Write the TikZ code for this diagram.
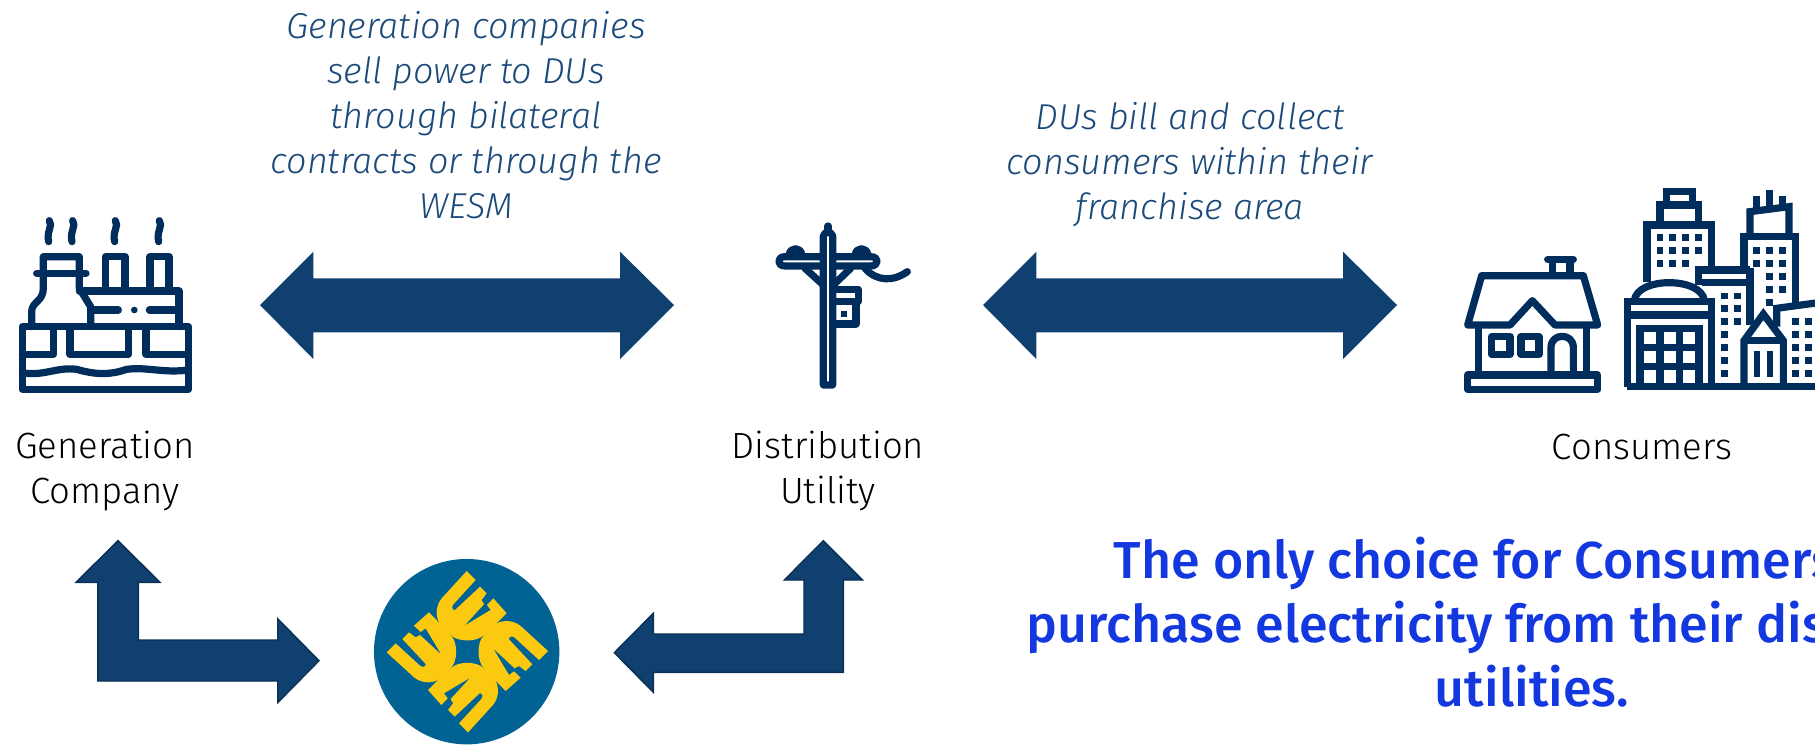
\documentclass[tikz,border=0pt]{standalone}
\usepackage{fontspec}
\setmainfont{Fira Sans Light}
\newfontfamily\boldf{Fira Sans Medium}
\definecolor{navy}{HTML}{002D5C}
\definecolor{arrowblue}{HTML}{10406F}
\definecolor{arrowedge}{HTML}{0A3055}
\definecolor{capblue}{HTML}{1B4A7A}
\definecolor{headblue}{HTML}{1438E0}
\definecolor{wesmblue}{HTML}{006394}
\definecolor{wesmgold}{HTML}{FBC90F}
\tikzset{
 icon/.style={draw=navy,line width=7.2pt,line join=round,line cap=round},
 iconb/.style={draw=navy,line width=7.2pt,line join=miter,line cap=butt},
 capt/.style={font=\fontsize{36}{45}\selectfont\itshape,text=capblue,align=center},
 lab/.style={font=\fontsize{36.5}{45}\selectfont,text=black,align=center},
 head/.style={font=\boldf\fontsize{52}{64}\selectfont,text=headblue,align=center},
 blockarrow/.style={fill=arrowblue},
 elbowarrow/.style={fill=arrowblue,draw=arrowedge,line width=1.4pt,line join=miter},
 zoomed/.style={x=0.33333pt,y=-0.33333pt},
}
\newcommand{\smoke}[1]{\draw[icon] (#1,92) .. controls (#1+12,108) and (#1-10,125) .. (#1-2,155);}
\newcommand{\win}[2]{\fill[navy] (#1-10,#2-10) rectangle (#1+10,#2+10);}
\begin{document}
\begin{tikzpicture}[x=1pt,y=-1pt]
\useasboundingbox (0,0) rectangle (1815,746);
\clip (0,0) rectangle (1815,746);
% captions
\node[capt] (capA) at (466,115) {Generation companies\\sell power to DUs\\through bilateral\\contracts or through the\\WESM};
\node[capt] (capB) at (1190,164.5) {DUs bill and collect\\consumers within their\\franchise area};
\node[lab] (labA) at (105,471) {Generation\\Company};
\node[lab] (labB) at (828,471) {Distribution\\Utility};
\node[lab] (labC) at (1642,447) {Consumers};
\node[head] (headline) at (1532,622) {The only choice for Consumers is to\\purchase electricity from their distribution\\utilities.};
% double arrows
\fill[blockarrow] (260,305) -- (313.3,251.7) -- (313.3,278.3) -- (620,278.3) -- (620,251.7) -- (674,305) -- (620,359) -- (620,332.3) -- (313.3,332.3) -- (313.3,359) -- cycle;
\fill[blockarrow] (983,305) -- (1036.3,251.7) -- (1036.3,278.3) -- (1343,278.3) -- (1343,251.7) -- (1397,305) -- (1343,359) -- (1343,332.3) -- (1036.3,332.3) -- (1036.3,359) -- cycle;
% elbow arrows
\draw[elbowarrow] (118,540.7) -- (160,582.3) -- (138.3,582.3) -- (138.3,640) -- (277.7,640) -- (277.7,618.7) -- (319,660.7) -- (277.7,702.7) -- (277.7,681) -- (97.7,681) -- (97.7,582.3) -- (76,582.3) -- cycle;
\draw[elbowarrow] (823.3,540.7) -- (862.7,580) -- (843.3,580) -- (843.3,672.3) -- (653.3,672.3) -- (653.3,692.3) -- (614.3,652.7) -- (653.3,613.3) -- (653.3,634) -- (804,634) -- (804,580) -- (784.3,580) -- cycle;
% generation company icon
\begin{scope}[shift={(0,190)},zoomed]
\draw[icon] (67,410) rectangle (565,598);
\draw[icon] (67,493) -- (160,493) -- (160,410);
\draw[icon] (210,410) -- (210,493) -- (385,493) -- (385,410);
\draw[icon] (438,410) -- (438,493) -- (565,493);
\draw[icon] (67,548) .. controls (130,560) and (170,530) .. (230,538) .. controls (290,555) and (330,555) .. (380,538) .. controls (440,530) and (490,550) .. (565,540);
\draw[icon] (95,410) -- (95,365) .. controls (95,335) and (130,335) .. (130,295) -- (130,200) -- (238,200) -- (238,295) -- (272,350) -- (272,410);
\draw[icon] (110,250) -- (258,250);
\draw[icon] (238,303) -- (537,303) -- (537,410);
\draw[icon] (272,360) -- (355,360);
\draw[icon] (448,360) -- (537,360);
\fill[navy] (403,360) circle (10);
\draw[icon] (317,303) -- (317,200) -- (375,200) -- (375,303);
\draw[icon] (450,303) -- (450,200) -- (507,200) -- (507,303);
\smoke{148}\smoke{218}\smoke{346}\smoke{478}
\end{scope}
% utility pole icon
\begin{scope}[shift={(750,200)},zoomed]
\draw[icon] (220,555) -- (220,108) .. controls (222,100) and (228,98) .. (234,95) .. controls (240,98) and (246,100) .. (248,108) -- (248,555) -- cycle;
\draw[icon] (234,78) -- (234,95);
\draw[icon] (218,170) -- (105,170) .. controls (80,170) and (80,198) .. (105,198) -- (218,198);
\draw[icon] (250,170) -- (362,170) .. controls (388,170) and (388,198) .. (362,198) -- (250,198);
\draw[icon] (118,165) .. controls (118,140) and (155,140) .. (155,165);
\draw[icon] (316,165) .. controls (316,140) and (353,140) .. (353,165);
\draw[icon] (165,205) -- (220,255);
\draw[icon] (302,205) -- (250,255);
\draw[icon] (250,268) -- (325,268) -- (325,305) -- (250,305);
\draw[icon] (318,305) -- (318,372) -- (250,372);
\fill[navy] (274,334) rectangle (290,350);
\draw[icon] (345,205) .. controls (380,245) and (430,245) .. (472,215);
\end{scope}
% house icon
\begin{scope}[shift={(1445,170)},zoomed]
\draw[icon] (68,615) rectangle (458,658);
\draw[icon] (100,470) -- (100,612);
\draw[icon] (425,470) -- (425,612);
\draw[icon] (68,465) -- (110,317) -- (415,317) -- (458,465) -- (330,465) -- (262,392) -- (195,465) -- cycle;
\draw[icon] (322,310) -- (322,270);
\draw[icon] (375,310) -- (375,270);
\draw[icon] (308,268) -- (385,268);
\draw[icon] (140,500) rectangle (195,553);
\draw[icon] (228,500) rectangle (282,553);
\draw[icon] (318,612) -- (318,532) .. controls (318,488) and (385,488) .. (385,532) -- (385,612);
% city
\draw[iconb] (547,650) -- (1830,650);
\draw[iconb] (547,650) -- (547,395) -- (800,395) -- (800,650);
\draw[iconb] (547,435) -- (800,435);
\draw[iconb] (568,392) .. controls (575,320) and (770,320) .. (778,392);
\draw[iconb] (585,650) -- (585,475) -- (762,475) -- (762,650);
\draw[iconb] (645,475) -- (645,650);
\draw[iconb] (703,475) -- (703,650);
\draw[iconb] (585,533) -- (762,533);
\draw[iconb] (585,590) -- (762,590);
\draw[iconb] (606,335) -- (606,165) -- (800,165) -- (800,295);
\draw[iconb] (645,165) -- (645,105) -- (760,105) -- (760,165);
\draw[iconb] (665,105) -- (665,65) -- (743,65) -- (743,105);
\foreach \p in {645,683,722,761}{\win{\p}{203}\win{\p}{242}}
\foreach \p in {645,683,722}{\win{\p}{281}}
\draw[iconb] (760,345) -- (760,300) -- (915,300);
\draw[iconb] (770,338) -- (915,338);
\foreach \q in {378,416,455}{\win{838}{\q}\win{877}{\q}}
\foreach \q in {494,533,571,610}{\win{838}{\q}}
\draw[iconb] (897,295) -- (897,200) -- (1052,200) -- (1052,405);
\draw[iconb] (915,200) -- (915,125) -- (1032,110) -- (1032,200);
\draw[iconb] (935,125) -- (935,78);
\draw[iconb] (973,120) -- (973,60);
\draw[iconb] (1012,115) -- (1012,78);
\draw[iconb] (915,295) -- (915,465);
\foreach \p in {935,973,1012}{\win{\p}{242}\win{\p}{281}}
\foreach \p in {973,1012}{\win{\p}{319}\win{\p}{358}}
\win{973}{397}
\draw[iconb] (897,650) -- (897,512) -- (955,432) -- (1015,512) -- (1015,650);
\draw[iconb] (897,512) -- (1015,512);
\fill[navy] (926,543) rectangle (944,620);
\fill[navy] (966,543) rectangle (984,620);
\draw[iconb] (995,470) -- (995,415) -- (1120,398);
\foreach \q in {455,494,533,571,610}{\win{1052}{\q}\win{1090}{\q}}
\end{scope}
% WESM logo
\begin{scope}[shift={(360,545)},zoomed]
\node[circle,fill=wesmblue,minimum size=185.4pt,inner sep=0pt] (wesm) at (320,320) {};
\foreach \a in {0,90,180,270}{
\fill[wesmgold,rotate around={\a:(322,320)}] (320,78) -- (347,105) -- (280,178) .. controls (274,185) and (276,196) .. (285,195) -- (360,125) -- (380,145) -- (365,165) -- (372,178) -- (313,242) -- (392,195) -- (381,180) -- (400,160) -- (440,205) -- (392,252) -- (372,270) .. controls (350,292) and (294,292) .. (272,270) -- (245,245) .. controls (225,220) and (225,185) .. (245,160) -- cycle;
}
\end{scope}
\end{tikzpicture}
\end{document}
